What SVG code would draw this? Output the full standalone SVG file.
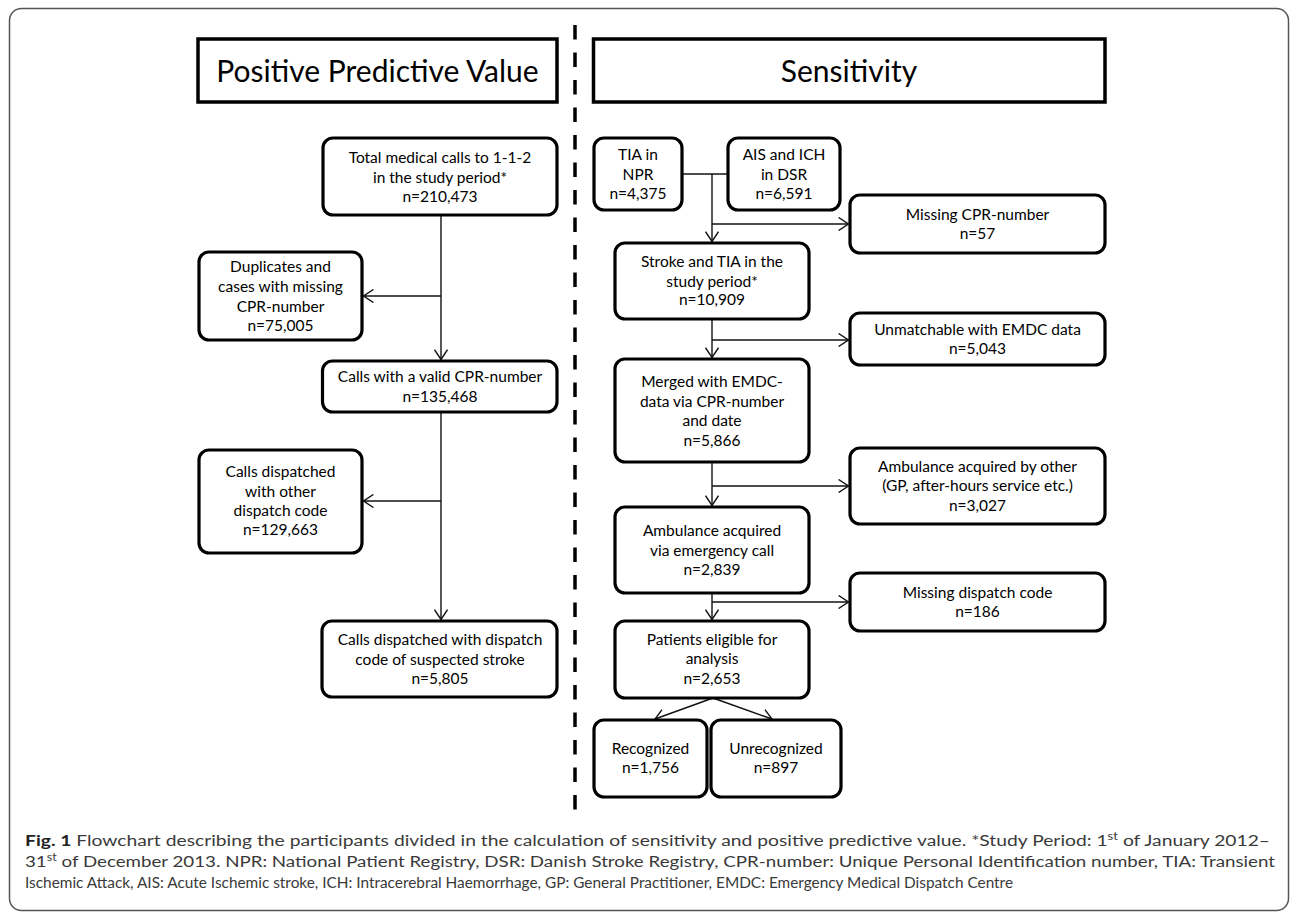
<svg xmlns="http://www.w3.org/2000/svg" width="1290" height="913" viewBox="0 0 1290 913">
<defs>
<style>
.frame{fill:none;stroke:#555;stroke-width:1.5}
.title{fill:#fff;stroke:#000;stroke-width:3.5}
.box{fill:#fff;stroke:#000;stroke-width:3.2}
.tt{font-family:Lato,"Liberation Sans",sans-serif;font-size:30px;text-anchor:middle;fill:#000}
.t{font-family:Lato,"Liberation Sans",sans-serif;font-size:15.5px;text-anchor:middle;fill:#000}
.c{fill:none;stroke:#111;stroke-width:1.4}
.cap{font-family:Lato,"Open Sans",sans-serif;font-size:15.5px;fill:#3a3a3a}
</style>
<marker id="arr" viewBox="0 0 11 14" refX="10.3" refY="7" markerWidth="11" markerHeight="14" markerUnits="userSpaceOnUse" orient="auto">
<path d="M0.5,0.5 L10.3,7 L0.5,13.5" fill="none" stroke="#111" stroke-width="1.4"/>
</marker>
</defs>

<rect class="frame" x="9.5" y="8.5" width="1279" height="902" rx="12"/>

<path d="M575,25 V815" fill="none" stroke="#000" stroke-width="3.5" stroke-dasharray="14.5 13"/>

<g id="title_ppv">
<rect class="title" x="198" y="39" width="359" height="63"/>
<text class="tt" x="377.5" y="82">Positive Predictive Value</text>
</g>
<g id="title_sens">
<rect class="title" x="593.5" y="39" width="511.5" height="63"/>
<text class="tt" x="849" y="82">Sensitivity</text>
</g>

<g id="connectors">
<path class="c" d="M441,215 V359.5" marker-end="url(#arr)"/>
<path class="c" d="M441,296 H363.6" marker-end="url(#arr)"/>
<path class="c" d="M441,412 V619.5" marker-end="url(#arr)"/>
<path class="c" d="M441,501 H363.6" marker-end="url(#arr)"/>
<path class="c" d="M682,174 H728"/>
<path class="c" d="M712,174 V241.5" marker-end="url(#arr)"/>
<path class="c" d="M712,224 H848.4" marker-end="url(#arr)"/>
<path class="c" d="M712,319 V357.5" marker-end="url(#arr)"/>
<path class="c" d="M712,340 H848.4" marker-end="url(#arr)"/>
<path class="c" d="M712,462 V505.5" marker-end="url(#arr)"/>
<path class="c" d="M712,486 H848.4" marker-end="url(#arr)"/>
<path class="c" d="M712,593 V619.5" marker-end="url(#arr)"/>
<path class="c" d="M712,602 H848.4" marker-end="url(#arr)"/>
<path class="c" d="M713,698 L655,719" marker-end="url(#arr)"/>
<path class="c" d="M713,698 L772,719" marker-end="url(#arr)"/>
</g>

<g id="n_total">
<rect class="box" x="323" y="138" width="234" height="77" rx="10"/>
<text class="t" x="440" y="163">Total medical calls to 1-1-2</text>
<text class="t" x="440" y="183">in the study period*</text>
<text class="t" x="440" y="202">n=210,473</text>
</g>
<g id="n_duplicates">
<rect class="box" x="199" y="252" width="163" height="88" rx="10"/>
<text class="t" x="280.5" y="272">Duplicates and</text>
<text class="t" x="280.5" y="292">cases with missing</text>
<text class="t" x="280.5" y="312">CPR-number</text>
<text class="t" x="280.5" y="331">n=75,005</text>
</g>
<g id="n_valid">
<rect class="box" x="322.5" y="361" width="234.5" height="51" rx="10"/>
<text class="t" x="440" y="382">Calls with a valid CPR-number</text>
<text class="t" x="440" y="402">n=135,468</text>
</g>
<g id="n_other">
<rect class="box" x="199" y="450" width="163" height="103" rx="10"/>
<text class="t" x="280.5" y="477">Calls dispatched</text>
<text class="t" x="280.5" y="497">with other</text>
<text class="t" x="280.5" y="516">dispatch code</text>
<text class="t" x="280.5" y="535">n=129,663</text>
</g>
<g id="n_final">
<rect class="box" x="322" y="621" width="235" height="76" rx="10"/>
<text class="t" x="440" y="645">Calls dispatched with dispatch</text>
<text class="t" x="440" y="665">code of suspected stroke</text>
<text class="t" x="440" y="684">n=5,805</text>
</g>

<g id="n_tia">
<rect class="box" x="594" y="138" width="88" height="72" rx="10"/>
<text class="t" x="638" y="160">TIA in</text>
<text class="t" x="638" y="180">NPR</text>
<text class="t" x="638" y="199">n=4,375</text>
</g>
<g id="n_ais">
<rect class="box" x="728" y="138" width="112" height="72" rx="10"/>
<text class="t" x="784" y="160">AIS and ICH</text>
<text class="t" x="784" y="180">in DSR</text>
<text class="t" x="784" y="199">n=6,591</text>
</g>
<g id="n_misscpr">
<rect class="box" x="850" y="195" width="255" height="58" rx="10"/>
<text class="t" x="977.5" y="220">Missing CPR-number</text>
<text class="t" x="977.5" y="239">n=57</text>
</g>
<g id="n_stroke">
<rect class="box" x="615" y="243" width="194" height="76" rx="10"/>
<text class="t" x="712" y="267">Stroke and TIA in the</text>
<text class="t" x="712" y="287">study period*</text>
<text class="t" x="712" y="305">n=10,909</text>
</g>
<g id="n_unmatch">
<rect class="box" x="850" y="313" width="255" height="52" rx="10"/>
<text class="t" x="977.5" y="335">Unmatchable with EMDC data</text>
<text class="t" x="977.5" y="354">n=5,043</text>
</g>
<g id="n_merged">
<rect class="box" x="615" y="359" width="194" height="103" rx="10"/>
<text class="t" x="712" y="387">Merged with EMDC-</text>
<text class="t" x="712" y="407">data via CPR-number</text>
<text class="t" x="712" y="426">and date</text>
<text class="t" x="712" y="446">n=5,866</text>
</g>
<g id="n_ambother">
<rect class="box" x="850" y="448" width="255" height="76" rx="10"/>
<text class="t" x="977.5" y="472">Ambulance acquired by other</text>
<text class="t" x="977.5" y="491">(GP, after-hours service etc.)</text>
<text class="t" x="977.5" y="511">n=3,027</text>
</g>
<g id="n_ambcall">
<rect class="box" x="615" y="507" width="194" height="86" rx="10"/>
<text class="t" x="712" y="536">Ambulance acquired</text>
<text class="t" x="712" y="556">via emergency call</text>
<text class="t" x="712" y="575">n=2,839</text>
</g>
<g id="n_missdisp">
<rect class="box" x="850" y="573" width="255" height="58" rx="10"/>
<text class="t" x="977.5" y="598">Missing dispatch code</text>
<text class="t" x="977.5" y="617">n=186</text>
</g>
<g id="n_eligible">
<rect class="box" x="615" y="621" width="194" height="77" rx="10"/>
<text class="t" x="712" y="645">Patients eligible for</text>
<text class="t" x="712" y="664">analysis</text>
<text class="t" x="712" y="684">n=2,653</text>
</g>
<g id="n_recognized">
<rect class="box" x="594" y="720" width="113" height="77" rx="10"/>
<text class="t" x="650.5" y="754">Recognized</text>
<text class="t" x="650.5" y="773">n=1,756</text>
</g>
<g id="n_unrecognized">
<rect class="box" x="711" y="720" width="130" height="77" rx="10"/>
<text class="t" x="776" y="754">Unrecognized</text>
<text class="t" x="776" y="773">n=897</text>
</g>

<g id="caption">
<text class="cap" x="25" y="846" textLength="1245" lengthAdjust="spacingAndGlyphs"><tspan font-weight="bold" fill="#222">Fig. 1</tspan> Flowchart describing the participants divided in the calculation of sensitivity and positive predictive value. *Study Period: 1<tspan dy="-6" font-size="10.5">st</tspan><tspan dy="6"> of January 2012–</tspan></text>
<text class="cap" x="25" y="867" textLength="1250" lengthAdjust="spacingAndGlyphs">31<tspan dy="-6" font-size="10.5">st</tspan><tspan dy="6"> of December 2013. NPR: National Patient Registry, DSR: Danish Stroke Registry, CPR-number: Unique Personal Identification number, TIA: Transient</tspan></text>
<text class="cap" x="25" y="888" font-size="16.5" textLength="988" lengthAdjust="spacingAndGlyphs">Ischemic Attack, AIS: Acute Ischemic stroke, ICH: Intracerebral Haemorrhage, GP: General Practitioner, EMDC: Emergency Medical Dispatch Centre</text>
</g>
</svg>
